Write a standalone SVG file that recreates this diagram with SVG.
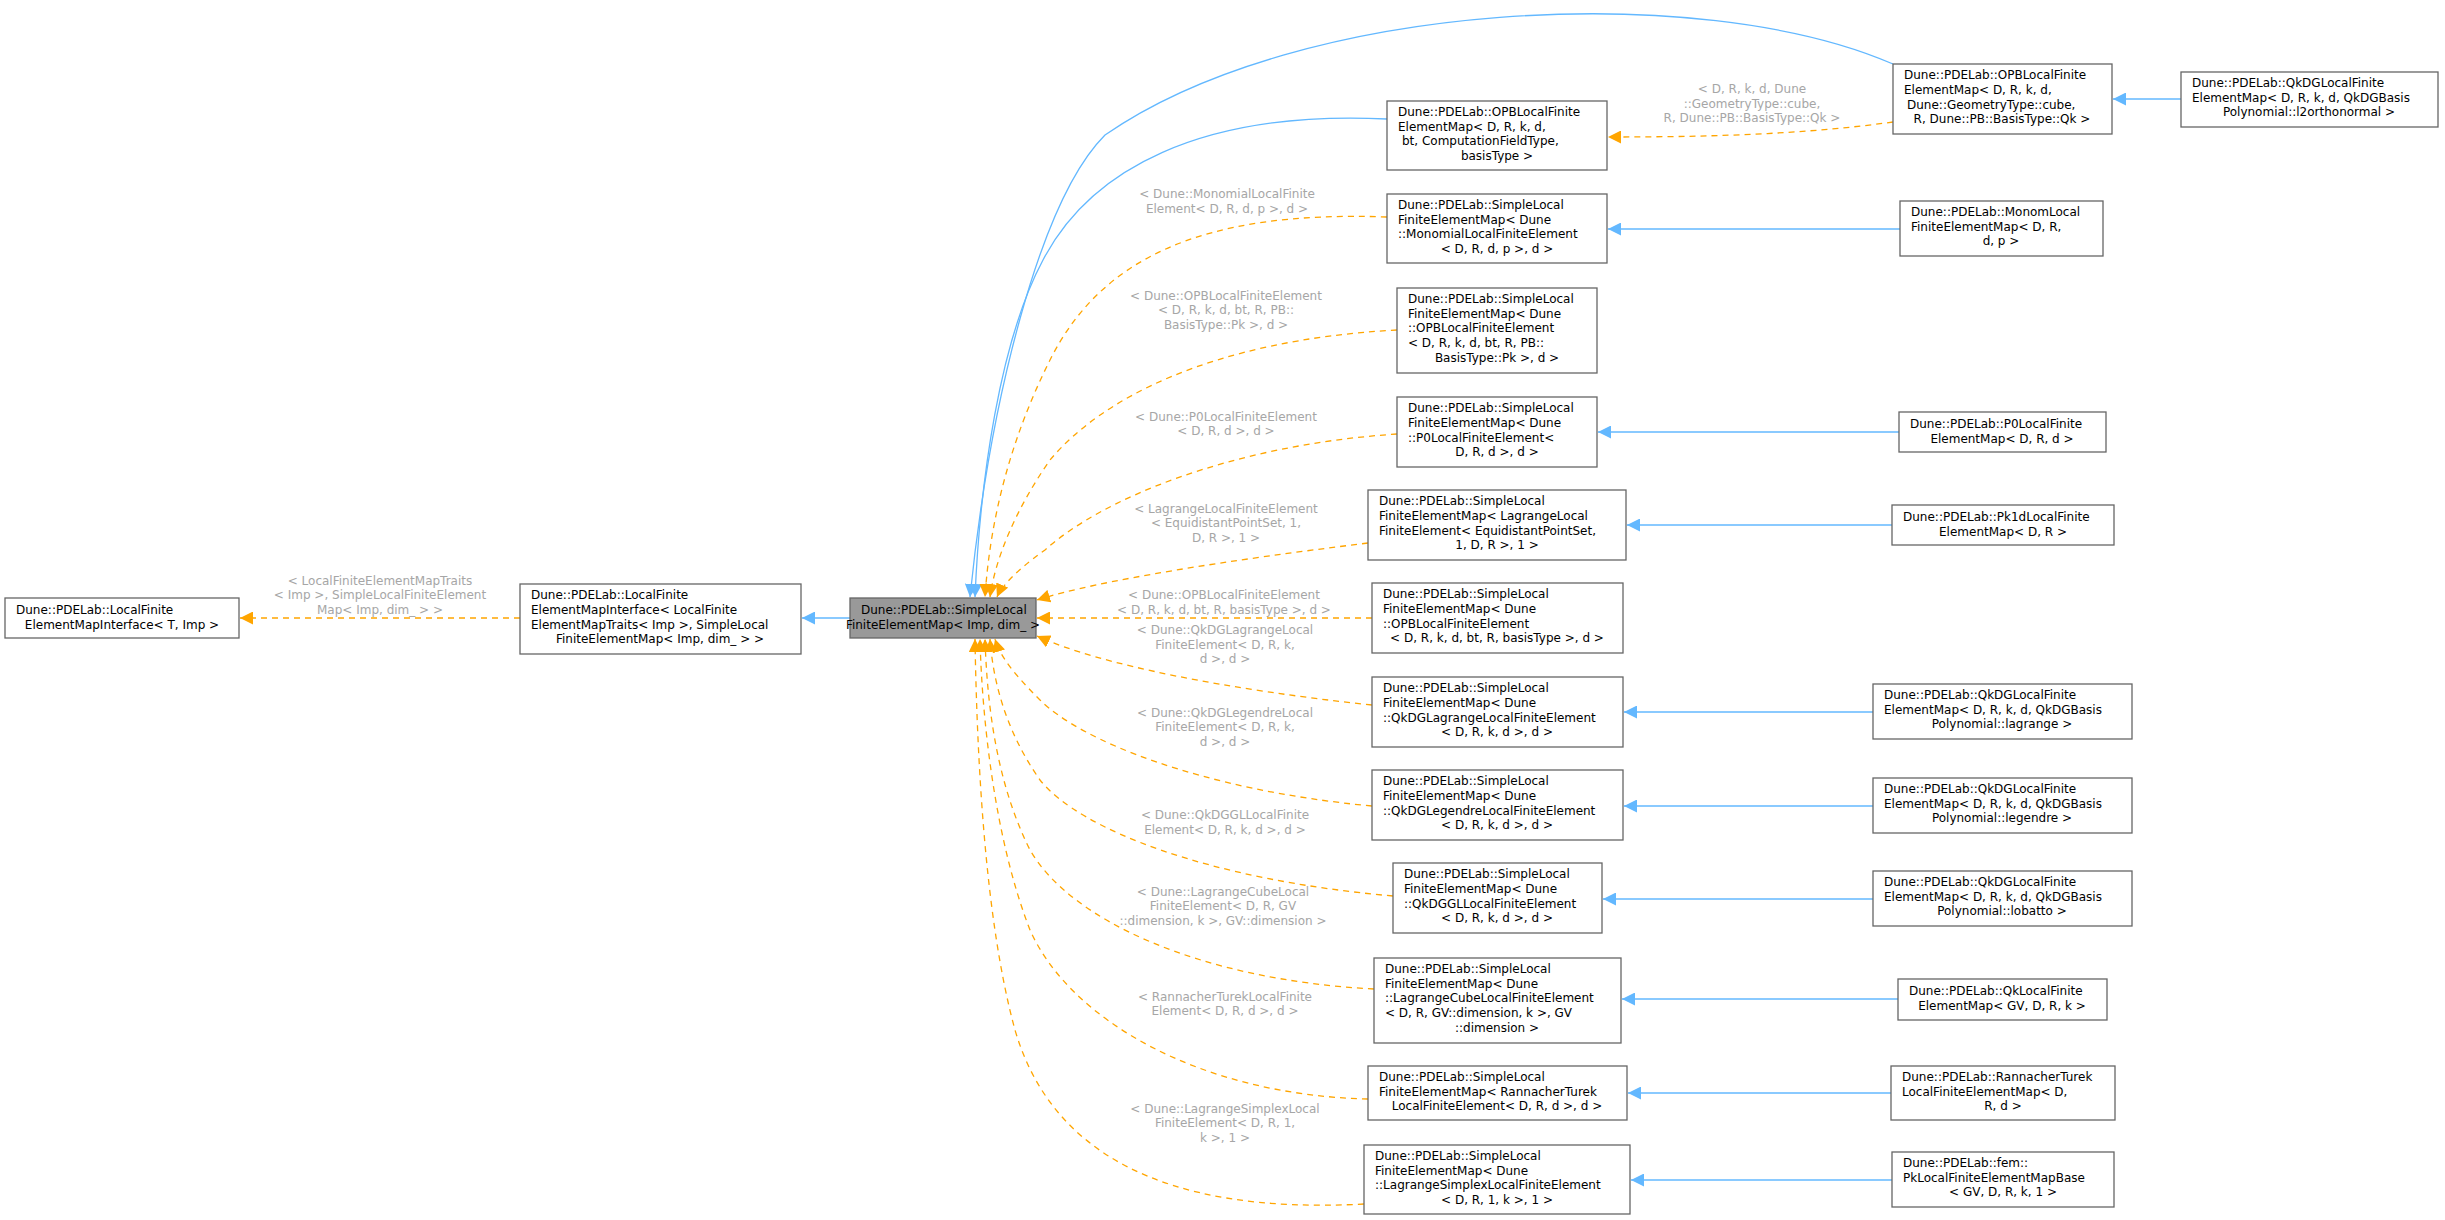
<svg xmlns="http://www.w3.org/2000/svg" width="2445" height="1220" viewBox="0 0 2445 1220">
<style>
.n rect{fill:#fff;stroke:#666;stroke-width:1.3}
.n text{font-family:"DejaVu Sans",sans-serif;font-size:12px;fill:#000}
.lbl{font-family:"DejaVu Sans",sans-serif;font-size:12px;fill:#a6a6a6;text-anchor:middle}
.b{fill:none;stroke:#63b8ff;stroke-width:1.3;marker-end:url(#ab)}
.o{fill:none;stroke:#ffa500;stroke-width:1.3;stroke-dasharray:6,5;marker-end:url(#ao)}
</style>
<defs>
<marker id="ab" viewBox="0 0 10 10" refX="10" refY="5" markerWidth="13" markerHeight="13" markerUnits="userSpaceOnUse" orient="auto"><path d="M0,0L10,5L0,10z" fill="#63b8ff"/></marker>
<marker id="ao" viewBox="0 0 10 10" refX="10" refY="5" markerWidth="13" markerHeight="13" markerUnits="userSpaceOnUse" orient="auto"><path d="M0,0L10,5L0,10z" fill="#ffa500"/></marker>
</defs>
<rect width="2445" height="1220" fill="#fff"/>
<g id="edges">
<path class="o" d="M520,618H240"/>
<path class="b" d="M850,618H802"/>
<path class="b" d="M1893,64C1700,-20 1300,0 1105,135C1040,200 990,400 970,597"/>
<path class="b" d="M1387,119C1200,110 1090,170 1043,260C1000,340 980,480 975,597"/>
<path class="o" d="M1387,217C1200,210 1100,260 1050,360C1010,440 990,520 985,597"/>
<path class="o" d="M1397,330C1210,340 1100,400 1050,460C1015,510 995,560 990,597"/>
<path class="o" d="M1397,434C1230,445 1100,500 1045,550C1010,575 1000,590 997,597"/>
<path class="o" d="M1368,543C1230,560 1100,580 1037,600"/>
<path class="o" d="M1372,618H1037"/>
<path class="o" d="M1372,705C1230,690 1100,665 1037,636"/>
<path class="o" d="M1372,806C1200,790 1080,740 1040,700C1010,670 1000,655 995,639"/>
<path class="o" d="M1393,896C1210,880 1080,830 1040,780C1005,730 993,680 990,639"/>
<path class="o" d="M1374,989C1200,980 1070,920 1030,850C995,780 987,700 985,639"/>
<path class="o" d="M1368,1099C1200,1095 1070,1020 1030,930C995,840 982,720 980,639"/>
<path class="o" d="M1364,1204C1160,1215 1050,1150 1015,1030C985,920 977,760 975,639"/>
<path class="b" d="M2181,99H2113"/>
<path class="o" d="M1893,122C1800,135 1700,137 1608,137"/>
<path class="b" d="M1900,229H1608"/>
<path class="b" d="M1899,432H1598"/>
<path class="b" d="M1892,525H1627"/>
<path class="b" d="M1873,712H1624"/>
<path class="b" d="M1873,806H1624"/>
<path class="b" d="M1873,899H1603"/>
<path class="b" d="M1898,999H1622"/>
<path class="b" d="M1891,1093H1628"/>
<path class="b" d="M1892,1180H1631"/>
</g>
<g id="labels">
<text class="lbl" x="380" y="585">&lt; LocalFiniteElementMapTraits</text>
<text class="lbl" x="380" y="599">&lt; Imp &gt;, SimpleLocalFiniteElement</text>
<text class="lbl" x="380" y="614">Map&lt; Imp, dim_ &gt; &gt;</text>
<text class="lbl" x="1752" y="93">&lt; D, R, k, d, Dune</text>
<text class="lbl" x="1752" y="108">::GeometryType::cube,</text>
<text class="lbl" x="1752" y="122">R, Dune::PB::BasisType::Qk &gt;</text>
<text class="lbl" x="1227" y="198">&lt; Dune::MonomialLocalFinite</text>
<text class="lbl" x="1227" y="213">Element&lt; D, R, d, p &gt;, d &gt;</text>
<text class="lbl" x="1226" y="300">&lt; Dune::OPBLocalFiniteElement</text>
<text class="lbl" x="1226" y="314">&lt; D, R, k, d, bt, R, PB::</text>
<text class="lbl" x="1226" y="329">BasisType::Pk &gt;, d &gt;</text>
<text class="lbl" x="1226" y="421">&lt; Dune::P0LocalFiniteElement</text>
<text class="lbl" x="1226" y="435">&lt; D, R, d &gt;, d &gt;</text>
<text class="lbl" x="1226" y="513">&lt; LagrangeLocalFiniteElement</text>
<text class="lbl" x="1226" y="527">&lt; EquidistantPointSet, 1,</text>
<text class="lbl" x="1226" y="542">D, R &gt;, 1 &gt;</text>
<text class="lbl" x="1224" y="599">&lt; Dune::OPBLocalFiniteElement</text>
<text class="lbl" x="1224" y="614">&lt; D, R, k, d, bt, R, basisType &gt;, d &gt;</text>
<text class="lbl" x="1225" y="634">&lt; Dune::QkDGLagrangeLocal</text>
<text class="lbl" x="1225" y="649">FiniteElement&lt; D, R, k,</text>
<text class="lbl" x="1225" y="663">d &gt;, d &gt;</text>
<text class="lbl" x="1225" y="717">&lt; Dune::QkDGLegendreLocal</text>
<text class="lbl" x="1225" y="731">FiniteElement&lt; D, R, k,</text>
<text class="lbl" x="1225" y="746">d &gt;, d &gt;</text>
<text class="lbl" x="1225" y="819">&lt; Dune::QkDGGLLocalFinite</text>
<text class="lbl" x="1225" y="834">Element&lt; D, R, k, d &gt;, d &gt;</text>
<text class="lbl" x="1223" y="896">&lt; Dune::LagrangeCubeLocal</text>
<text class="lbl" x="1223" y="910">FiniteElement&lt; D, R, GV</text>
<text class="lbl" x="1223" y="925">::dimension, k &gt;, GV::dimension &gt;</text>
<text class="lbl" x="1225" y="1001">&lt; RannacherTurekLocalFinite</text>
<text class="lbl" x="1225" y="1015">Element&lt; D, R, d &gt;, d &gt;</text>
<text class="lbl" x="1225" y="1113">&lt; Dune::LagrangeSimplexLocal</text>
<text class="lbl" x="1225" y="1127">FiniteElement&lt; D, R, 1,</text>
<text class="lbl" x="1225" y="1142">k &gt;, 1 &gt;</text>
</g>
<g id="A" class="n"><rect x="5" y="598" width="234" height="40"/><text x="16" y="614">Dune::PDELab::LocalFinite</text><text x="122" y="629" text-anchor="middle">ElementMapInterface&lt; T, Imp &gt;</text></g>
<g id="B" class="n"><rect x="520" y="584" width="281" height="70"/><text x="531" y="599">Dune::PDELab::LocalFinite</text><text x="531" y="614">ElementMapInterface&lt; LocalFinite</text><text x="531" y="629">ElementMapTraits&lt; Imp &gt;, SimpleLocal</text><text x="660" y="643" text-anchor="middle">FiniteElementMap&lt; Imp, dim_ &gt; &gt;</text></g>
<g id="C" class="n"><rect x="850" y="598" width="186" height="40" style="fill:#999"/><text x="861" y="614">Dune::PDELab::SimpleLocal</text><text x="943" y="629" text-anchor="middle">FiniteElementMap&lt; Imp, dim_ &gt;</text></g>
<g id="OPBQk" class="n"><rect x="1893" y="64" width="219" height="70"/><text x="1904" y="79">Dune::PDELab::OPBLocalFinite</text><text x="1904" y="94">ElementMap&lt; D, R, k, d,</text><text x="1907" y="109">Dune::GeometryType::cube,</text><text x="2002" y="123" text-anchor="middle">R, Dune::PB::BasisType::Qk &gt;</text></g>
<g id="QkDGl2" class="n"><rect x="2181" y="72" width="257" height="55"/><text x="2192" y="87">Dune::PDELab::QkDGLocalFinite</text><text x="2192" y="102">ElementMap&lt; D, R, k, d, QkDGBasis</text><text x="2309" y="116" text-anchor="middle">Polynomial::l2orthonormal &gt;</text></g>
<g id="OPBgen" class="n"><rect x="1387" y="101" width="220" height="69"/><text x="1398" y="116">Dune::PDELab::OPBLocalFinite</text><text x="1398" y="131">ElementMap&lt; D, R, k, d,</text><text x="1402" y="145">bt, ComputationFieldType,</text><text x="1497" y="160" text-anchor="middle">basisType &gt;</text></g>
<g id="Monomial" class="n"><rect x="1387" y="194" width="220" height="69"/><text x="1398" y="209">Dune::PDELab::SimpleLocal</text><text x="1398" y="224">FiniteElementMap&lt; Dune</text><text x="1398" y="238">::MonomialLocalFiniteElement</text><text x="1497" y="253" text-anchor="middle">&lt; D, R, d, p &gt;, d &gt;</text></g>
<g id="MonomLocal" class="n"><rect x="1900" y="201" width="203" height="55"/><text x="1911" y="216">Dune::PDELab::MonomLocal</text><text x="1911" y="231">FiniteElementMap&lt; D, R,</text><text x="2001" y="245" text-anchor="middle">d, p &gt;</text></g>
<g id="Pk" class="n"><rect x="1397" y="288" width="200" height="85"/><text x="1408" y="303">Dune::PDELab::SimpleLocal</text><text x="1408" y="318">FiniteElementMap&lt; Dune</text><text x="1408" y="332">::OPBLocalFiniteElement</text><text x="1408" y="347">&lt; D, R, k, d, bt, R, PB::</text><text x="1497" y="362" text-anchor="middle">BasisType::Pk &gt;, d &gt;</text></g>
<g id="P0" class="n"><rect x="1397" y="397" width="200" height="70"/><text x="1408" y="412">Dune::PDELab::SimpleLocal</text><text x="1408" y="427">FiniteElementMap&lt; Dune</text><text x="1408" y="442">::P0LocalFiniteElement&lt;</text><text x="1497" y="456" text-anchor="middle">D, R, d &gt;, d &gt;</text></g>
<g id="P0map" class="n"><rect x="1899" y="412" width="207" height="40"/><text x="1910" y="428">Dune::PDELab::P0LocalFinite</text><text x="2002" y="443" text-anchor="middle">ElementMap&lt; D, R, d &gt;</text></g>
<g id="Lagrange" class="n"><rect x="1368" y="490" width="258" height="70"/><text x="1379" y="505">Dune::PDELab::SimpleLocal</text><text x="1379" y="520">FiniteElementMap&lt; LagrangeLocal</text><text x="1379" y="535">FiniteElement&lt; EquidistantPointSet,</text><text x="1497" y="549" text-anchor="middle">1, D, R &gt;, 1 &gt;</text></g>
<g id="Pk1d" class="n"><rect x="1892" y="505" width="222" height="40"/><text x="1903" y="521">Dune::PDELab::Pk1dLocalFinite</text><text x="2003" y="536" text-anchor="middle">ElementMap&lt; D, R &gt;</text></g>
<g id="OPBbt" class="n"><rect x="1372" y="583" width="251" height="70"/><text x="1383" y="598">Dune::PDELab::SimpleLocal</text><text x="1383" y="613">FiniteElementMap&lt; Dune</text><text x="1383" y="628">::OPBLocalFiniteElement</text><text x="1497" y="642" text-anchor="middle">&lt; D, R, k, d, bt, R, basisType &gt;, d &gt;</text></g>
<g id="QkDGLag" class="n"><rect x="1372" y="677" width="251" height="70"/><text x="1383" y="692">Dune::PDELab::SimpleLocal</text><text x="1383" y="707">FiniteElementMap&lt; Dune</text><text x="1383" y="722">::QkDGLagrangeLocalFiniteElement</text><text x="1497" y="736" text-anchor="middle">&lt; D, R, k, d &gt;, d &gt;</text></g>
<g id="QkDGLagMap" class="n"><rect x="1873" y="684" width="259" height="55"/><text x="1884" y="699">Dune::PDELab::QkDGLocalFinite</text><text x="1884" y="714">ElementMap&lt; D, R, k, d, QkDGBasis</text><text x="2002" y="728" text-anchor="middle">Polynomial::lagrange &gt;</text></g>
<g id="Legendre" class="n"><rect x="1372" y="770" width="251" height="70"/><text x="1383" y="785">Dune::PDELab::SimpleLocal</text><text x="1383" y="800">FiniteElementMap&lt; Dune</text><text x="1383" y="815">::QkDGLegendreLocalFiniteElement</text><text x="1497" y="829" text-anchor="middle">&lt; D, R, k, d &gt;, d &gt;</text></g>
<g id="LegendreMap" class="n"><rect x="1873" y="778" width="259" height="55"/><text x="1884" y="793">Dune::PDELab::QkDGLocalFinite</text><text x="1884" y="808">ElementMap&lt; D, R, k, d, QkDGBasis</text><text x="2002" y="822" text-anchor="middle">Polynomial::legendre &gt;</text></g>
<g id="QkDGGL" class="n"><rect x="1393" y="863" width="209" height="70"/><text x="1404" y="878">Dune::PDELab::SimpleLocal</text><text x="1404" y="893">FiniteElementMap&lt; Dune</text><text x="1404" y="908">::QkDGGLLocalFiniteElement</text><text x="1497" y="922" text-anchor="middle">&lt; D, R, k, d &gt;, d &gt;</text></g>
<g id="LobattoMap" class="n"><rect x="1873" y="871" width="259" height="55"/><text x="1884" y="886">Dune::PDELab::QkDGLocalFinite</text><text x="1884" y="901">ElementMap&lt; D, R, k, d, QkDGBasis</text><text x="2002" y="915" text-anchor="middle">Polynomial::lobatto &gt;</text></g>
<g id="LagrangeCube" class="n"><rect x="1374" y="958" width="247" height="85"/><text x="1385" y="973">Dune::PDELab::SimpleLocal</text><text x="1385" y="988">FiniteElementMap&lt; Dune</text><text x="1385" y="1002">::LagrangeCubeLocalFiniteElement</text><text x="1385" y="1017">&lt; D, R, GV::dimension, k &gt;, GV</text><text x="1497" y="1032" text-anchor="middle">::dimension &gt;</text></g>
<g id="QkMap" class="n"><rect x="1898" y="979" width="209" height="41"/><text x="1909" y="995">Dune::PDELab::QkLocalFinite</text><text x="2002" y="1010" text-anchor="middle">ElementMap&lt; GV, D, R, k &gt;</text></g>
<g id="Rannacher" class="n"><rect x="1368" y="1066" width="259" height="54"/><text x="1379" y="1081">Dune::PDELab::SimpleLocal</text><text x="1379" y="1096">FiniteElementMap&lt; RannacherTurek</text><text x="1497" y="1110" text-anchor="middle">LocalFiniteElement&lt; D, R, d &gt;, d &gt;</text></g>
<g id="RannMap" class="n"><rect x="1891" y="1066" width="224" height="54"/><text x="1902" y="1081">Dune::PDELab::RannacherTurek</text><text x="1902" y="1096">LocalFiniteElementMap&lt; D,</text><text x="2003" y="1110" text-anchor="middle">R, d &gt;</text></g>
<g id="Simplex" class="n"><rect x="1364" y="1145" width="266" height="69"/><text x="1375" y="1160">Dune::PDELab::SimpleLocal</text><text x="1375" y="1175">FiniteElementMap&lt; Dune</text><text x="1375" y="1189">::LagrangeSimplexLocalFiniteElement</text><text x="1497" y="1204" text-anchor="middle">&lt; D, R, 1, k &gt;, 1 &gt;</text></g>
<g id="femMap" class="n"><rect x="1892" y="1152" width="222" height="55"/><text x="1903" y="1167">Dune::PDELab::fem::</text><text x="1903" y="1182">PkLocalFiniteElementMapBase</text><text x="2003" y="1196" text-anchor="middle">&lt; GV, D, R, k, 1 &gt;</text></g>
</svg>
